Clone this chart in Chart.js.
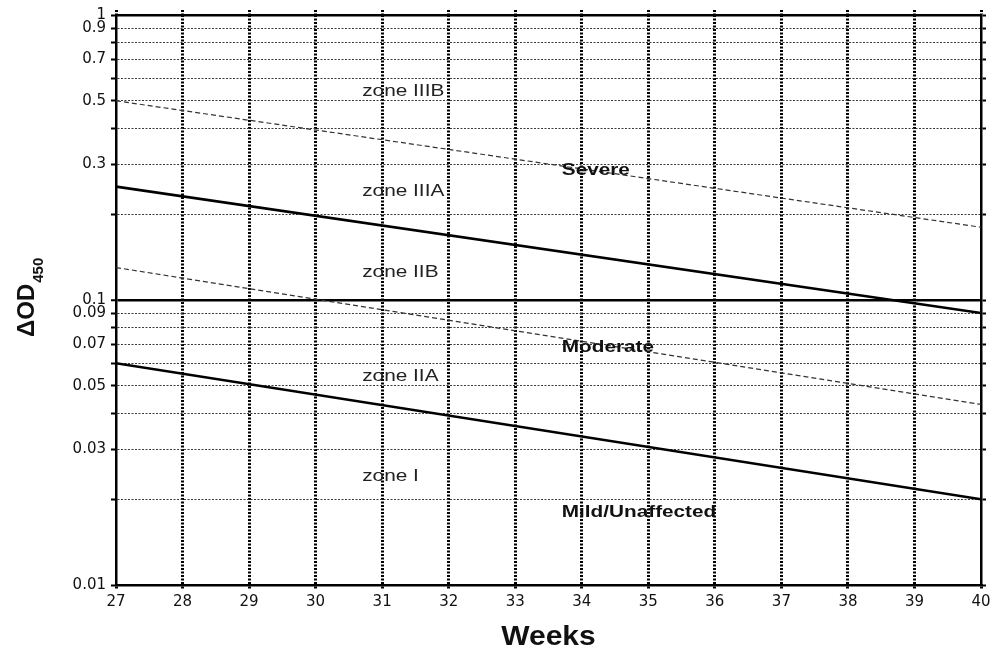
<!DOCTYPE html>
<html>
<head>
<meta charset="utf-8">
<script src="https://cdn.jsdelivr.net/npm/chart.js@4.4.0/dist/chart.umd.min.js"></script>
<style>
  html, body { margin: 0; padding: 0; background: #fff; }
  canvas { display: block; }
</style>
</head>
<body>
<canvas id="liley" width="994" height="648"></canvas>
<script>
// Gestational age (weeks) where each boundary line is anchored
const weeks = [27, 40];

// Zone boundaries: ΔOD450 at 27 and at 40 weeks
const zoneIIIBoundary = [0.5, 0.18];   // zone IIIB / zone IIIA
const severeBoundary  = [0.25, 0.09];  // Severe / Moderate
const zoneIIBoundary  = [0.13, 0.043]; // zone IIB / zone IIA
const mildBoundary    = [0.06, 0.02];  // Moderate / Mild-Unaffected

// Axis ticks
const weekTicks = [27, 28, 29, 30, 31, 32, 33, 34, 35, 36, 37, 38, 39, 40];
const odTicks = [0.01, 0.02, 0.03, 0.04, 0.05, 0.06, 0.07, 0.08, 0.09,
                 0.1, 0.2, 0.3, 0.4, 0.5, 0.6, 0.7, 0.8, 0.9, 1];
const odLabels = [0.01, 0.03, 0.05, 0.07, 0.09, 0.1, 0.3, 0.5, 0.7, 0.9, 1];

// Zone names and where they sit (week, ΔOD450)
const zoneNames = ['zone IIIB', 'zone IIIA', 'zone IIB', 'zone IIA', 'zone I'];
const zoneWeek  = [30.7, 30.7, 30.7, 30.7, 30.7];
const zoneOD    = [0.54, 0.24, 0.125, 0.054, 0.024];

// Severity grades and where they sit (week, ΔOD450)
const gradeNames = ['Severe', 'Moderate', 'Mild/Unaffected'];
const gradeWeek  = [33.7, 33.7, 33.7];
const gradeOD    = [0.286, 0.068, 0.018];

const toPoints = arr => weeks.map((w, i) => ({ x: w, y: arr[i] }));

const tickFont = { family: '"DejaVu Sans", sans-serif', size: 15 };

function fixedTicks(values) {
  return scale => { scale.ticks = values.map(v => ({ value: v })); };
}

const tv = ctx => (ctx && ctx.tick) ? ctx.tick.value : null;

// Drawn text: white page, zone / grade names and axis titles
const textPlugin = {
  id: 'lileyText',
  beforeDraw(chart) {
    const ctx = chart.ctx;
    ctx.save();
    ctx.fillStyle = '#fff';
    ctx.fillRect(0, 0, chart.width, chart.height);
    ctx.restore();
  },
  afterDraw(chart) {
    const ctx = chart.ctx;
    const xs = chart.scales.x, ys = chart.scales.y;
    const put = (text, x, y, sx) => {
      ctx.save();
      ctx.translate(x, y);
      ctx.scale(sx, 1);
      ctx.fillText(text, 0, 0);
      ctx.restore();
    };
    ctx.save();
    ctx.textAlign = 'left';
    ctx.textBaseline = 'middle';

    ctx.fillStyle = '#222';
    ctx.font = '16px "Liberation Sans", Arial, sans-serif';
    zoneNames.forEach((t, i) => {
      put(t, xs.getPixelForValue(zoneWeek[i]), ys.getPixelForValue(zoneOD[i]), 1.3);
    });

    ctx.fillStyle = '#111';
    ctx.font = 'bold 17px "Liberation Sans", Arial, sans-serif';
    gradeNames.forEach((t, i) => {
      put(t, xs.getPixelForValue(gradeWeek[i]), ys.getPixelForValue(gradeOD[i]), 1.22);
    });

    // x-axis title
    ctx.fillStyle = '#111';
    ctx.font = 'bold 28px "Liberation Sans", Arial, sans-serif';
    ctx.textAlign = 'center';
    ctx.textBaseline = 'alphabetic';
    const cx = (chart.chartArea.left + chart.chartArea.right) / 2;
    put('Weeks', cx, 645, 1.07);

    // y-axis title: ΔOD with subscript 450, rotated
    ctx.translate(34, 337);
    ctx.rotate(-Math.PI / 2);
    ctx.textAlign = 'left';
    ctx.font = 'bold 24px "Liberation Sans", Arial, sans-serif';
    ctx.fillText('\u0394OD', 0, 0);
    const w = ctx.measureText('\u0394OD').width;
    ctx.font = 'bold 15px "Liberation Sans", Arial, sans-serif';
    ctx.fillText('450', w + 1, 9);
    ctx.restore();
  }
};

const lineStyle = (data, width, dash, color) => ({
  data: toPoints(data),
  borderColor: color,
  borderWidth: width,
  borderDash: dash,
  pointRadius: 0,
  fill: false,
  tension: 0
});

new Chart(document.getElementById('liley'), {
  type: 'line',
  data: {
    datasets: [
      lineStyle(zoneIIIBoundary, 1.2, [5, 3], '#333'),
      lineStyle(severeBoundary, 2.6, [], '#000'),
      lineStyle(zoneIIBoundary, 1.2, [5, 3], '#333'),
      lineStyle(mildBoundary, 2.6, [], '#000')
    ]
  },
  options: {
    responsive: false,
    devicePixelRatio: 1,
    animation: false,
    layout: { padding: 0 },
    plugins: { legend: { display: false }, tooltip: { enabled: false } },
    scales: {
      x: {
        type: 'linear', position: 'bottom', min: 27, max: 40,
        afterBuildTicks: fixedTicks(weekTicks),
        afterFit: s => { s.height = 63; },
        ticks: { font: tickFont, color: '#111', padding: 3, maxRotation: 0, autoSkip: false },
        grid: {
          color: ctx => (tv(ctx) === 27 || tv(ctx) === 40) ? 'rgba(0,0,0,0)' : '#000',
          lineWidth: 3, tickLength: 5, tickWidth: 3, tickColor: '#000',
          tickBorderDash: [2, 1.5]
        },
        border: { color: '#000', width: 2.5, dash: [2, 1.5] }
      },
      x2: {
        type: 'linear', position: 'top', min: 27, max: 40,
        afterBuildTicks: fixedTicks(weekTicks),
        afterFit: s => { s.height = 15; },
        ticks: { display: false },
        grid: {
          drawOnChartArea: false, tickLength: 5, tickWidth: 3, tickColor: '#000',
          tickBorderDash: [2, 1.5]
        },
        border: { color: '#000', width: 2.5 }
      },
      y: {
        type: 'logarithmic', position: 'left', min: 0.01, max: 1,
        afterBuildTicks: fixedTicks(odTicks),
        afterFit: s => { s.width = 116; },
        ticks: {
          font: tickFont, color: '#111', padding: 5, autoSkip: false,
          callback: v => odLabels.includes(v) ? String(v) : ''
        },
        grid: {
          color: ctx => tv(ctx) === 0.1 ? '#000' : '#3a3a3a',
          lineWidth: ctx => tv(ctx) === 0.1 ? 2.5 : 1,
          tickLength: 5, tickWidth: 2, tickColor: '#000'
        },
        border: {
          color: '#000', width: 2.5,
          dash: ctx => tv(ctx) === 0.1 ? [] : [2, 1.5]
        }
      },
      y2: {
        type: 'logarithmic', position: 'right', min: 0.01, max: 1,
        afterBuildTicks: fixedTicks(odTicks),
        afterFit: s => { s.width = 13; },
        ticks: { display: false },
        grid: { drawOnChartArea: false, tickLength: 5, tickWidth: 2, tickColor: '#000' },
        border: { color: '#000', width: 2.5 }
      }
    }
  },
  plugins: [textPlugin]
});
</script>
</body>
</html>
